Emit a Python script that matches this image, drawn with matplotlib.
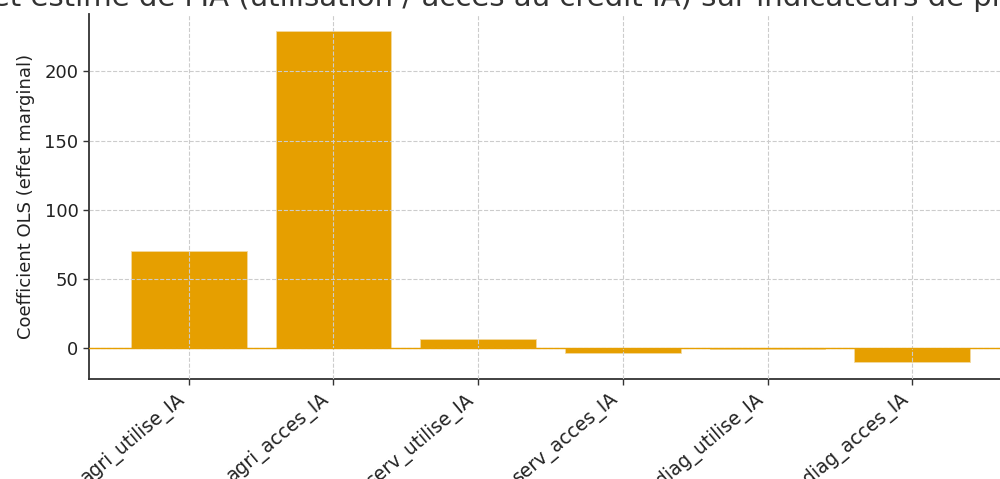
import matplotlib
matplotlib.use("Agg")
import matplotlib.pyplot as plt

categories = ["agri_utilise_IA", "agri_acces_IA", "serv_utilise_IA",
              "serv_acces_IA", "diag_utilise_IA", "diag_acces_IA"]
coefficients = [70.5, 229.5, 6.5, -3.6, -0.3, -10.1]
title = "Effet estimé de l'IA (utilisation / accès au crédit IA) sur indicateurs de productivité"
ylabel = "Coefficient OLS (effet marginal)"

fig = plt.figure(figsize=(10, 4.79), dpi=100)
ax = fig.add_axes([0.089, 0.2088, 0.923, 0.762])

color = "#E69F00"
x = range(len(categories))
ax.bar(x, coefficients, width=0.8, color=color, edgecolor="#f3d9a0", linewidth=0.6, zorder=2)
ax.axhline(0, color=color, linewidth=1.0, zorder=3)

ax.set_xticks(list(x))
ax.set_xticklabels(categories, rotation=40, ha="right", fontsize=13.5, color="#222222")
ax.tick_params(axis="y", labelsize=13, labelcolor="#222222")
ax.tick_params(axis="both", color="#333333", length=4, width=1)

ax.grid(True, linestyle="--", color="#cccccc", linewidth=0.8, zorder=4)
ax.set_axisbelow(False)

for s in ["top", "right"]:
    ax.spines[s].set_visible(False)
for s in ["left", "bottom"]:
    ax.spines[s].set_color("#333333")
    ax.spines[s].set_linewidth(1.3)

ax.set_ylabel(ylabel, fontsize=13, color="#222222", labelpad=7)
ax.set_title(title, fontsize=21, color="#333333")

fig.savefig("out.png", dpi=100)
